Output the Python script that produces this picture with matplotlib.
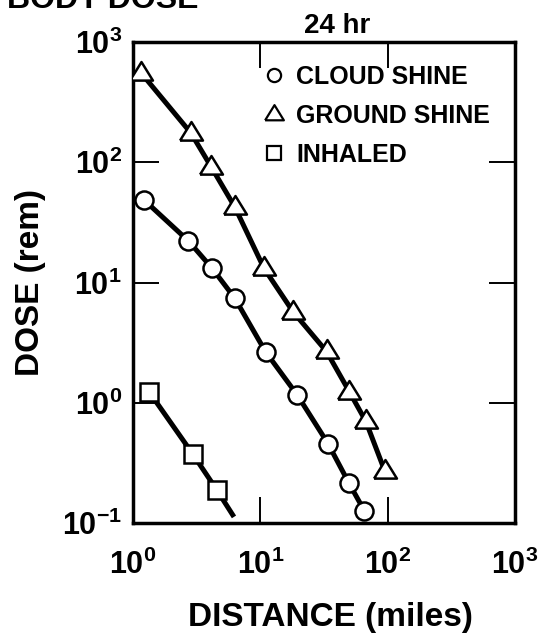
import numpy as np
import matplotlib
matplotlib.use("Agg")
import matplotlib.pyplot as plt
from matplotlib import ticker
from matplotlib.lines import Line2D

plt.rcParams['font.family'] = ['Liberation Sans', 'DejaVu Sans']
plt.rcParams['font.weight'] = 'bold'
plt.rcParams['mathtext.fontset'] = 'custom'
plt.rcParams['mathtext.rm'] = 'Liberation Sans:bold'
plt.rcParams['mathtext.bf'] = 'Liberation Sans:bold'
plt.rcParams['mathtext.it'] = 'Liberation Sans:bold'

# 24 hr whole-body dose versus distance
cloud_dist = [1.22, 2.72, 4.19, 6.3, 11.0, 19.5, 34.1, 49.6, 65.4]
cloud_dose = [48.6, 22.2, 13.1, 7.4, 2.65, 1.16, 0.455, 0.215, 0.127]

ground_dist = [1.16, 2.85, 4.1, 6.3, 10.7, 18.1, 33.1, 49.9, 67.4, 95.0]
ground_dose = [552, 175, 92, 42.5, 13.1, 5.7, 2.67, 1.24, 0.70, 0.27]

inhaled_dist = [1.34, 2.94, 4.54, 6.06]
inhaled_dose = [1.23, 0.376, 0.189, 0.117]

labels = ["CLOUD SHINE", "GROUND SHINE", "INHALED"]
decade_ticks = [1e0, 1e1, 1e2, 1e3]
dose_ticks = [1e-1, 1e0, 1e1, 1e2, 1e3]

# equilateral-ish triangle marker
tri = [(-1.0, -0.62), (1.0, -0.62), (0.0, 1.0), (-1.0, -0.62)]

fig = plt.figure(figsize=(5.42, 6.40), dpi=100)
ax = fig.add_axes([133/542, 1 - 523/640, (515-133)/542, (523-42)/640])

mk = dict(color='black', lw=3.6, markerfacecolor='white',
          markeredgecolor='black', markeredgewidth=1.8, zorder=3)
ax.plot(cloud_dist, cloud_dose, marker='o', ms=13, **mk)
ax.plot(ground_dist, ground_dose, marker=tri, ms=16.5, **mk)
ax.plot(inhaled_dist, inhaled_dose, marker='s', ms=12.5,
        markevery=[0, 1, 2], **mk)

ax.set_xscale('log')
ax.set_yscale('log')
ax.set_xlim(1, 1000)
ax.set_ylim(0.1, 1000)
ax.set_xticks(decade_ticks)
ax.set_yticks(dose_ticks)
ax.xaxis.set_minor_locator(ticker.NullLocator())
ax.yaxis.set_minor_locator(ticker.NullLocator())

fmt = ticker.FuncFormatter(lambda v, _: r'$\mathbf{10^{%d}}$' % round(np.log10(v)))
ax.xaxis.set_major_formatter(fmt)
ax.yaxis.set_major_formatter(fmt)

for s in ax.spines.values():
    s.set_linewidth(2.5)
ax.tick_params(which='major', direction='in', length=19, width=1.4,
               top=True, right=True, labelsize=22, colors='black')
ax.tick_params(axis='x', pad=19)
ax.tick_params(axis='y', pad=8)

ax.set_xlabel("DISTANCE (miles)", fontsize=24, fontweight='bold')
ax.xaxis.set_label_coords(0.516, -0.164)
ax.set_ylabel("DOSE (rem)", fontsize=24, fontweight='bold')
ax.yaxis.set_label_coords(-0.228, 0.5)

handles = [
    Line2D([], [], ls='none', marker='o', ms=9.5, mfc='white', mec='black', mew=1.6),
    Line2D([], [], ls='none', marker=tri, ms=13.5, mfc='white', mec='black', mew=1.6),
    Line2D([], [], ls='none', marker='s', ms=10, mfc='white', mec='black', mew=1.6),
]
ax.legend(handles, labels, loc='upper left',
          bbox_to_anchor=(264/542, 1 - 65/640), bbox_transform=fig.transFigure,
          frameon=False, handlelength=0.8, handletextpad=0.5,
          labelspacing=0.6, borderpad=0, borderaxespad=0,
          prop={'family': 'Liberation Sans', 'weight': 'bold', 'size': 18})

fig.text(337/542, 1 - 33/640, "24 hr", ha='center', va='baseline',
         fontsize=20, fontweight='bold')
fig.text(7/542, 1 - 8/640, "BODY DOSE", ha='left', va='baseline',
         fontsize=23, fontweight='bold')

fig.savefig("out.png", dpi=100)
